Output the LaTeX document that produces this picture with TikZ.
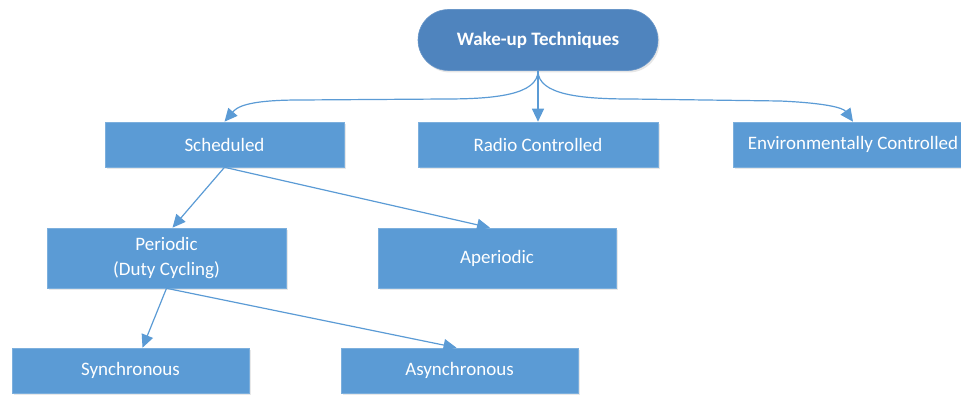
\documentclass[tikz,border=0pt]{standalone}
\usepackage{fontspec}
\setmainfont{Carlito}
\usetikzlibrary{arrows.meta,shadows,shapes.misc}
\definecolor{boxblue}{HTML}{5B9BD5}
\definecolor{rootblue}{HTML}{4F84BE}
\definecolor{linkblue}{HTML}{5B9BD5}

\begin{document}
\begin{tikzpicture}[x=1pt,y=-1pt,
  catbox/.style={draw=boxblue!80!white, line width=0.6pt, fill=boxblue,
    minimum width=239pt, minimum height=45pt, inner sep=0pt, text=white,
    font=\fontsize{19}{25}\selectfont, align=center,
    drop shadow={shadow xshift=1.5pt, shadow yshift=-2pt, opacity=0.18}},
  rootbox/.style={rounded rectangle, draw=rootblue!85!white, line width=0.6pt,
    fill=rootblue, minimum width=240pt, minimum height=61pt, inner sep=0pt,
    text=white, font=\fontsize{19}{25}\selectfont\bfseries,
    drop shadow={shadow xshift=1.5pt, shadow yshift=-2pt, opacity=0.2}},
  link/.style={draw=linkblue, line width=1.2pt,
    -{Triangle[length=13pt,width=12pt]}}]

\useasboundingbox (0,0) rectangle (961,396);
\clip (0,0) rectangle (961,396);

% top level
\node[rootbox] (root) at (538,40) {Wake-up Techniques};

% first level
\node[catbox] (sch) at (224.5,144.5) {Scheduled};
\node[catbox, minimum width=240pt] (rad) at (538,144.5) {Radio Controlled};
\node[catbox, minimum width=240pt] (env) at (853,144.5) {Environmentally Controlled};

% second level
\node[catbox, minimum height=60pt] (per) at (166.5,258) {Periodic\\(Duty Cycling)};
\node[catbox, minimum width=238pt, minimum height=60pt] (ape) at (497,258) {Aperiodic};

% third level
\node[catbox, minimum width=237pt] (syn) at (130.5,370.5) {Synchronous};
\node[catbox, minimum width=237pt] (asy) at (459.5,370.5) {Asynchronous};

% bend points of the curved connectors
\coordinate (lb) at (445,99);
\coordinate (lc) at (300,100);
\coordinate (rb) at (631,99);
\coordinate (rc) at (780,101);

% connectors
\draw[link] (root.south) -- (rad.north);
\draw[link] (root.south) .. controls +(0,24) and +(50,0) .. (lb) -- (lc)
  .. controls +(-55,0) and +(12,-14) .. (sch.north);
\draw[link] (root.south) .. controls +(0,24) and +(-50,0) .. (rb) -- (rc)
  .. controls +(45,2) and +(-10,-14) .. (env.north);

\draw[link] (sch.south) -- ([xshift=6pt]per.north);
\draw[link] (sch.south) -- ([xshift=-7pt]ape.north);
\draw[link] (per.south) -- ([xshift=12pt]syn.north);
\draw[link] (per.south) -- ([xshift=-3pt]asy.north);
\end{tikzpicture}
\end{document}
